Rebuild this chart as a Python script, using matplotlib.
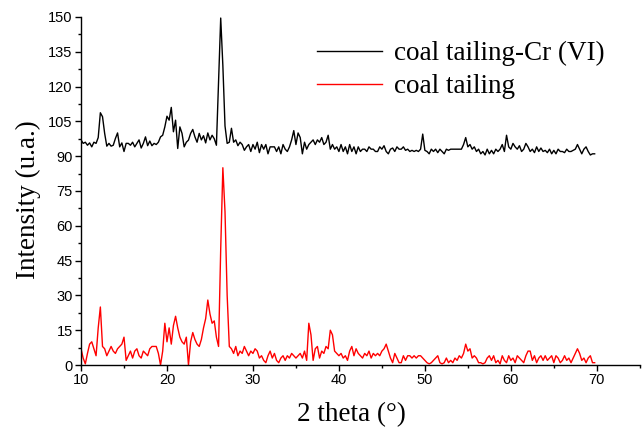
import numpy as np
import matplotlib
matplotlib.use("Agg")
import matplotlib.pyplot as plt
from matplotlib.ticker import MultipleLocator

# 2 theta grid (deg), 0.25 step
two_theta = np.arange(10, 70, 0.25)

# coal tailing after Cr(VI) adsorption (offset pattern, top)
coal_tailing_cr = [
    97, 95.5, 96, 94.7, 95.7, 94, 96, 95.5, 98, 108.7, 107, 99.8, 94.3, 95.5, 94.3, 94.7, 97.6, 100, 94, 95.7,
    92, 95.5, 95.5, 94.7, 96, 94, 95.5, 97, 93.5, 95.5, 98.3, 94.5, 96.5, 94.5, 95.5, 95, 96, 98.3, 99, 102.6,
    107.2, 105.5, 111, 100.5, 105.5, 93.3, 102.6, 99.8, 94, 96, 96.9, 99.8, 101.5, 98.3, 96, 99.8, 97, 98.8, 95.7, 100,
    97, 99, 97.5, 94.7, 122, 149.5, 129, 103, 95.5, 96, 102, 96, 97, 94.5, 96, 95, 92.5, 94, 95, 92,
    95, 93, 96, 91.5, 95, 93, 95, 91, 94, 94, 94, 92, 94, 91, 95, 93, 92, 94, 97, 101,
    95, 100, 98, 91, 96, 93, 95, 96, 97, 95, 97, 96, 98, 95, 96, 99, 93, 95, 93, 94,
    92, 95, 92, 94, 91, 95, 92, 94, 91, 94, 92, 93, 93, 92, 94, 93, 93, 92, 92, 94,
    93, 94.5, 92, 91, 93, 93.5, 92, 94, 93, 93, 94, 92.5, 93, 92, 92.5, 92, 92.5, 92, 93, 99.5,
    92.5, 92, 91, 93, 92, 93, 91.5, 93, 92, 91, 93, 92.5, 93, 93, 93, 93, 93, 93, 95, 98,
    94, 95, 93, 94, 92, 93, 91, 92, 90.5, 93, 91, 92.5, 91, 93, 92, 93, 95, 92, 99, 94,
    93, 95.5, 94, 93, 94.5, 92, 93, 95.5, 94, 92, 93, 91.5, 94, 92, 93.5, 92, 92.5, 91.5, 93, 91,
    92.5, 91, 93, 92, 92, 91.5, 93, 92, 92, 92.5, 93, 95, 93, 91, 93, 94, 92, 90.5, 91, 91,
]

# raw coal tailing (bottom)
coal_tailing = [
    7, 3, 0.5, 5, 9, 10, 7, 4, 16, 25, 8, 7, 4, 6, 8, 6, 5, 7, 8, 9,
    12, 2, 4, 6, 3, 6, 7, 4, 3, 6, 5, 4, 7, 8, 8, 8, 5, 0, 6, 18,
    10, 16, 9, 17, 21, 16, 12, 10, 9, 12, 0, 10, 14, 11, 9, 8, 11, 16, 20, 28,
    22, 18, 19, 12, 8, 50, 85, 66, 30, 8, 7, 5, 8, 4, 6, 5, 8, 6, 4, 6,
    5, 7, 6, 3, 4, 2, 1, 4, 6, 3, 5, 2, 1, 3, 4, 2, 4, 3, 5, 4,
    3, 4, 5, 3, 6, 2, 18, 13, 2, 7, 8, 3, 6, 5, 8, 7, 15, 13, 6, 5,
    4, 5, 3, 4, 2, 6, 8, 4, 7, 5, 4, 3, 5, 4, 6, 3, 5, 4, 5, 4,
    6, 7, 9, 6, 3, 1, 5, 3, 1, 1, 4, 2, 4, 4, 3, 4, 3, 4, 4, 3,
    2, 1, 0.5, 1, 2, 3, 4, 1, 0.5, 1, 3, 1, 2, 1, 3, 2, 4, 3, 5, 9,
    6, 7, 3, 4, 3, 1, 1, 0.5, 1, 3, 4, 2, 4, 1, 2, 0.5, 4, 2, 1, 4,
    2, 3, 1, 4, 3, 2, 1, 4, 6, 6, 2, 4, 1, 3, 4, 2, 4, 2, 3, 4,
    1, 4, 3, 1, 2, 4, 2, 3, 1, 3, 5, 7, 5, 2, 3, 1, 3, 4, 1, 1,
]

series_labels = ["coal tailing-Cr (VI)", "coal tailing"]

serif = "Liberation Serif"
sans = "Liberation Sans"

fig = plt.figure(figsize=(6.43, 4.33), dpi=100)
ax = fig.add_axes([0.126, 0.157, 0.869, 0.804])

ax.plot(two_theta, coal_tailing_cr, color="black", linewidth=1.0, label=series_labels[0])
ax.plot(two_theta, coal_tailing, color="red", linewidth=1.0, label=series_labels[1])

ax.set_xlim(10, 75)
ax.set_ylim(0, 150)
ax.xaxis.set_major_locator(MultipleLocator(10))
ax.xaxis.set_minor_locator(MultipleLocator(5))
ax.yaxis.set_major_locator(MultipleLocator(15))
ax.yaxis.set_minor_locator(MultipleLocator(7.5))
ax.set_xticks([10, 20, 30, 40, 50, 60, 70])

for s in ["top", "right"]:
    ax.spines[s].set_visible(False)
for s in ["left", "bottom"]:
    ax.spines[s].set_linewidth(1.0)

ax.tick_params(which="major", direction="out", length=4, width=1, labelsize=10.5, pad=2)
ax.tick_params(which="minor", direction="out", length=2.5, width=1)
for lbl in ax.get_xticklabels() + ax.get_yticklabels():
    lbl.set_fontfamily(sans)

ax.set_xlabel("2 theta (°)", fontfamily=serif, fontsize=19.5)
ax.set_ylabel("Intensity (u.a.)", fontfamily=serif, fontsize=19.5)
# label positions (pixels -> axes fraction)
ax.xaxis.set_label_coords((352 - 81) / 559, -(402 - 365) / 348)
ax.yaxis.set_label_coords(-(81 - 41) / 559, (365 - 200) / 348)

leg = ax.legend(
    loc="upper left", bbox_to_anchor=(317 / 643, 1 - 41 / 433),
    bbox_transform=fig.transFigure, frameon=False,
    prop={"family": serif, "size": 19.5},
    handlelength=2.4, handletextpad=0.45, labelspacing=0.3,
    borderpad=0, borderaxespad=0,
)

fig.savefig("out.png", dpi=100)
